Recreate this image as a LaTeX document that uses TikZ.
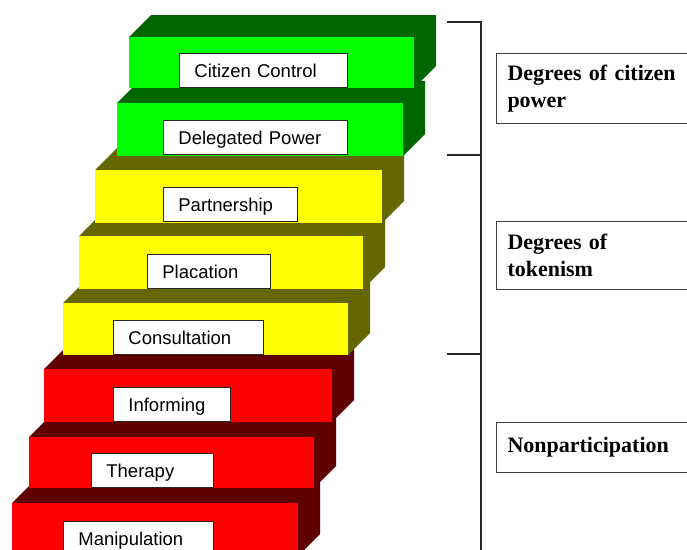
\documentclass[tikz,border=0pt]{standalone}
\usepackage{fontspec}
\setmainfont{Liberation Serif}
\newfontfamily\lsans{Liberation Sans}
\definecolor{gfront}{HTML}{00FF00}
\definecolor{gdark}{HTML}{006600}
\definecolor{yfront}{HTML}{FFFF00}
\definecolor{ydark}{HTML}{666600}
\definecolor{rfront}{HTML}{FF0000}
\definecolor{rdark}{HTML}{600000}
% #1 left, #2 right, #3 top, #4 bottom, #5 front colour, #6 dark colour
\newcommand\stairblock[6]{%
  \fill[#6] (#1,#3) -- (#1+22,#3-22) -- (#2+22,#3-22) -- (#2+22,#4-22) -- (#2,#4) -- (#2,#3) -- cycle;
  \fill[#5] (#1,#3) rectangle (#2,#4);}
\tikzset{
  lbl/.style={draw=black!85, line width=0.8pt, fill=white,
    font=\lsans\fontsize{18.5}{20}\selectfont, minimum height=34pt,
    inner xsep=15pt, inner ysep=0pt, text height=17pt, text depth=3pt,
    anchor=south west, align=left},
  cat/.style={draw=black!75, line width=1pt, fill=white,
    font=\bfseries\fontsize{22}{27}\selectfont, anchor=north west,
    text width=190pt, inner xsep=11pt, align=left, minimum width=212pt},
  brk/.style={line width=1.3pt, black!85}
}
\begin{document}
\begin{tikzpicture}[x=1pt,y=-1pt]
\useasboundingbox (0,0) rectangle (687,549);
\clip (0,0) rectangle (687,549);
\fill[white] (0,0) rectangle (687,549);
% stairs, bottom first
\stairblock{12}{298}{503}{556}{rfront}{rdark}
\stairblock{29}{314}{437}{488}{rfront}{rdark}
\stairblock{44}{332}{369}{422}{rfront}{rdark}
\stairblock{63}{348}{303}{355}{yfront}{ydark}
\stairblock{79}{363}{236}{289}{yfront}{ydark}
\stairblock{95}{382}{170}{223}{yfront}{ydark}
\stairblock{117}{403}{103}{156}{gfront}{gdark}
\stairblock{129}{414}{37}{88}{gfront}{gdark}
% labels
\node[lbl, text width=138pt] (cc) at (179,88) {Citizen Control};
\node[lbl, text width=154pt] (dp) at (163,155) {Delegated Power};
\node[lbl, text width=104pt] (pa) at (163,222) {Partnership};
\node[lbl, text width=93pt] (pl) at (147,289) {Placation};
\node[lbl, text width=120pt] (co) at (113,355) {Consultation};
\node[lbl, text width=87pt] (in) at (113,422) {Informing};
\node[lbl, text width=92pt] (th) at (91,488) {Therapy};
\node[lbl, text width=120pt] (ma) at (63,556) {Manipulation};
% bracket
\coordinate (t1) at (447,22);
\coordinate (j1) at (481,22);
\coordinate (t2) at (447,155);
\coordinate (j2) at (481,155);
\coordinate (t3) at (447,354);
\coordinate (j3) at (481,354);
\coordinate (jb) at (481,552);
\draw[brk] (t1) -- (j1) -- (jb);
\draw[brk] (t2) -- (j2);
\draw[brk] (t3) -- (j3);
% categories
\node[cat, minimum height=70pt] (cp) at (496,53) {Degrees of citizen\\power};
\node[cat, minimum height=68pt] (tk) at (496,221) {Degrees of\\tokenism};
\node[cat, minimum height=50pt] (np) at (496,422) {Nonparticipation};
\end{tikzpicture}
\end{document}
